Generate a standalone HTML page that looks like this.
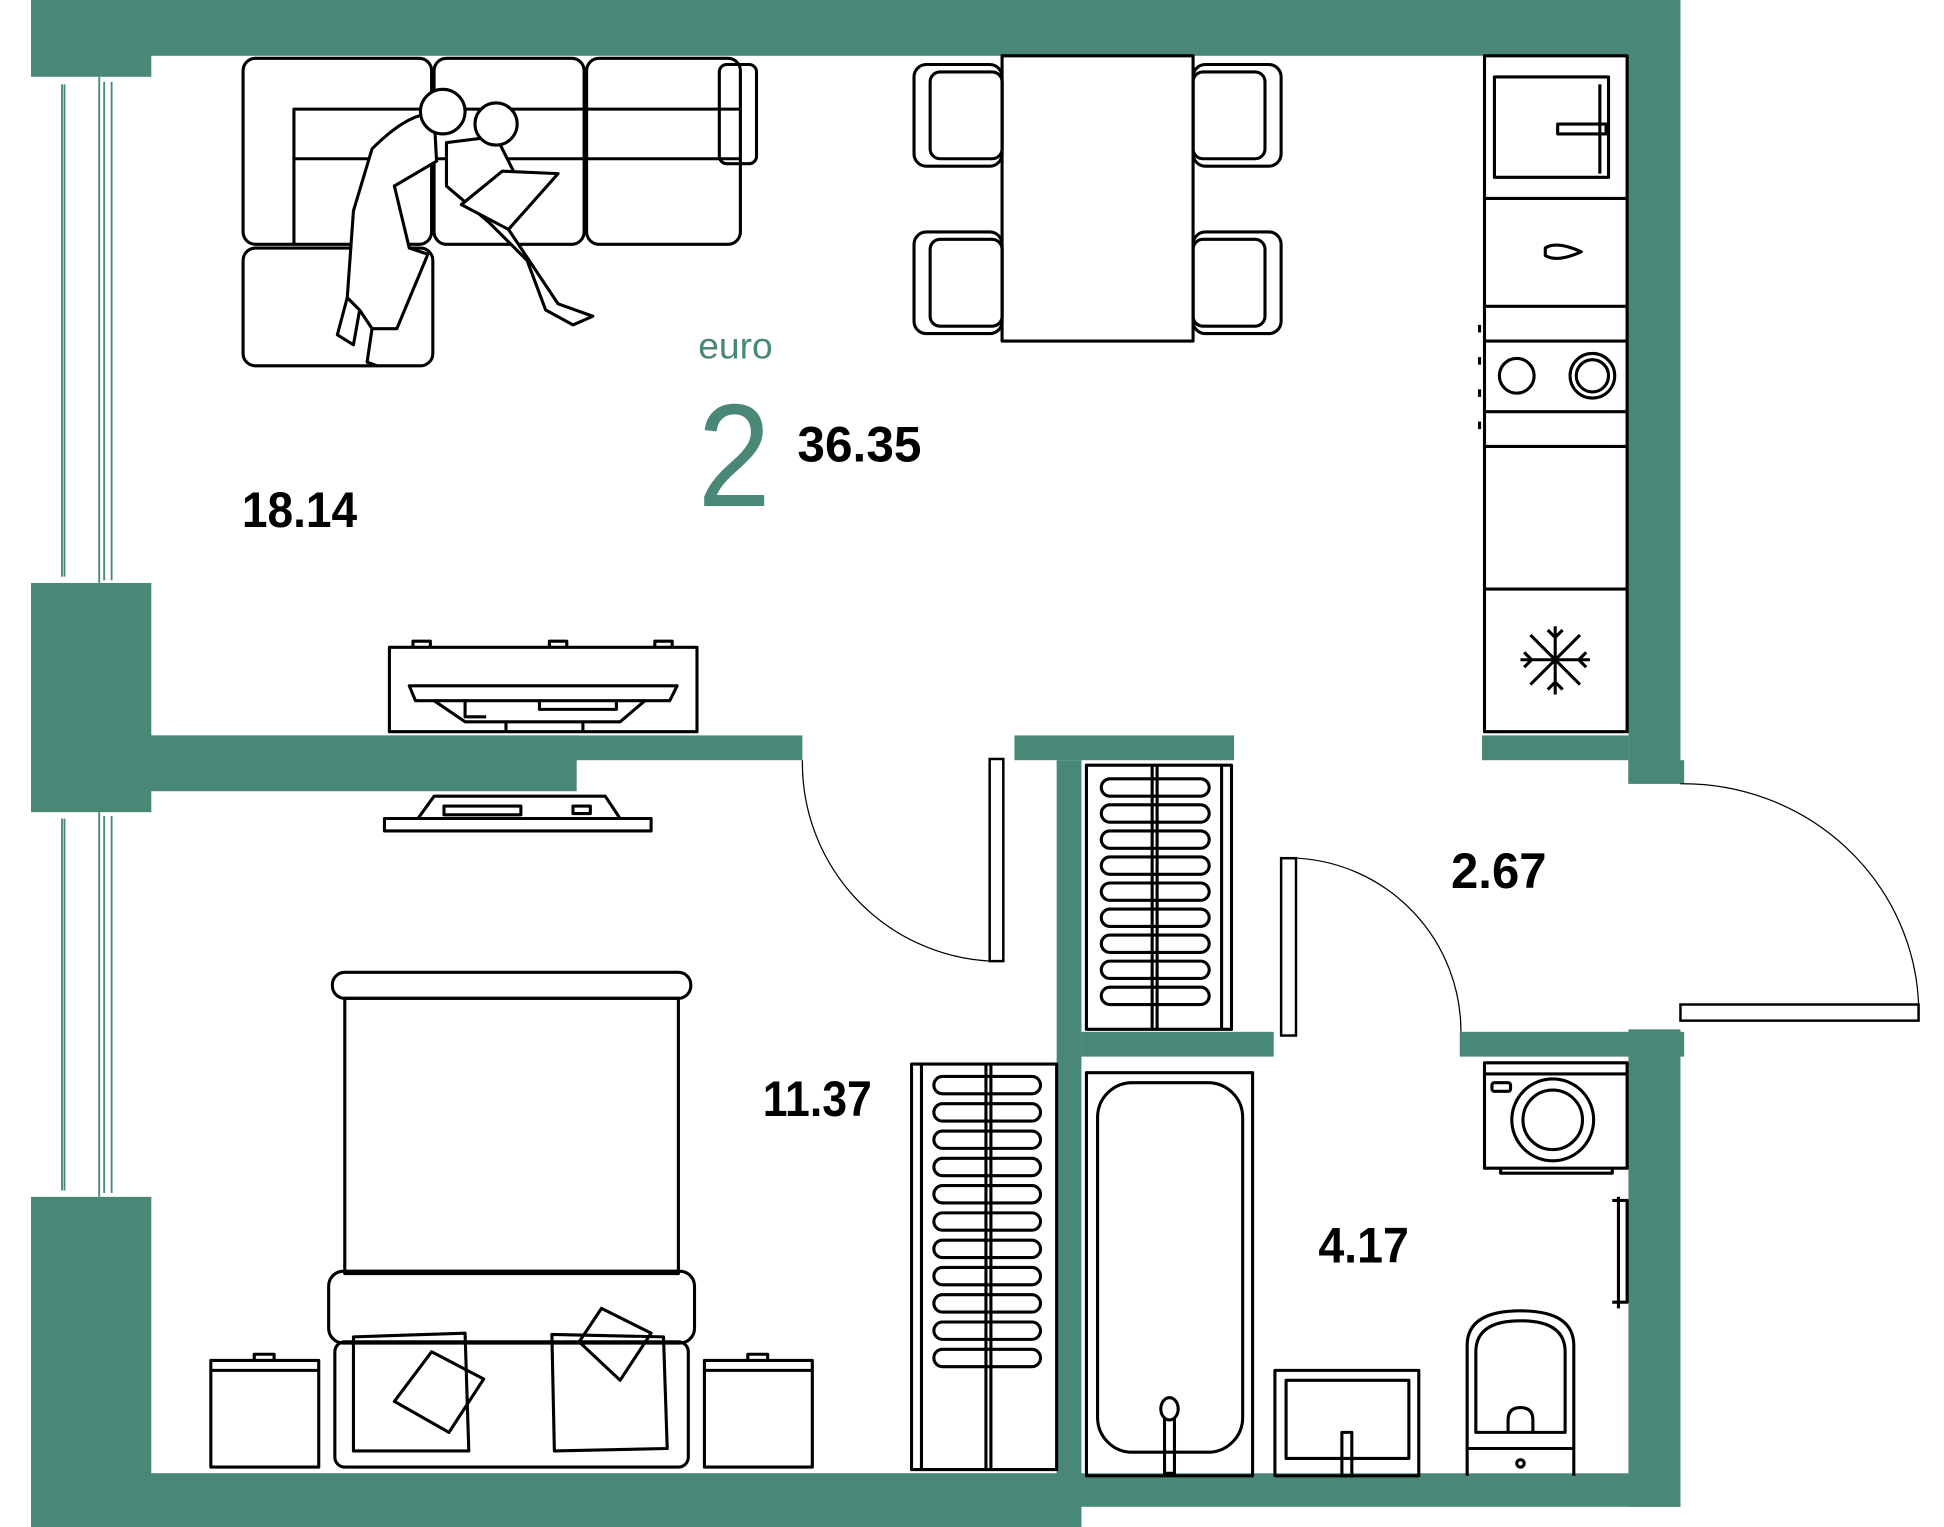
<!DOCTYPE html>
<html><head><meta charset="utf-8"><style>
html,body{margin:0;padding:0;background:#fff;width:1944px;height:1527px;overflow:hidden}
svg{display:block}
text{font-family:"Liberation Sans",sans-serif}
</style></head><body>
<svg width="1944" height="1527" viewBox="0 0 1567.5 1231.3" preserveAspectRatio="none" xmlns="http://www.w3.org/2000/svg">
<g fill="#498877">
<rect x="25" y="0" width="1330" height="45"/>
<rect x="25" y="0" width="97" height="62"/>
<rect x="25" y="470" width="97" height="185"/>
<rect x="25" y="965" width="97" height="267"/>
<rect x="1313" y="0" width="42" height="632"/>
<rect x="1313" y="613" width="45" height="19"/>
<rect x="1313" y="830" width="42" height="385"/>
<rect x="25" y="1188" width="1330" height="27"/>
<rect x="25" y="1188" width="847" height="44"/>
<rect x="122" y="593" width="525" height="20"/>
<rect x="25" y="593" width="440" height="45"/>
<rect x="818" y="593" width="177" height="20"/>
<rect x="1195" y="593" width="118" height="20"/>
<rect x="852" y="613" width="20" height="577"/>
<rect x="872" y="832" width="155" height="20"/>
<rect x="1177" y="832" width="181" height="20"/>
</g>
<g fill="none" stroke="#498877" stroke-width="1.5">
<rect x="25" y="62" width="97" height="408" fill="#fff" stroke="none"/>
<rect x="25" y="655" width="97" height="310" fill="#fff" stroke="none"/>
<line x1="50" y1="68" x2="50" y2="465"/><line x1="52" y1="68" x2="52" y2="465"/>
<line x1="80" y1="62" x2="80" y2="470"/><line x1="84" y1="66" x2="84" y2="468"/><line x1="90" y1="66" x2="90" y2="468"/>
<line x1="50" y1="660" x2="50" y2="960"/><line x1="52" y1="660" x2="52" y2="960"/>
<line x1="80" y1="655" x2="80" y2="965"/><line x1="84" y1="658" x2="84" y2="962"/><line x1="90" y1="658" x2="90" y2="962"/>
</g>
<g fill="none" stroke="#000" stroke-width="2.5" stroke-linejoin="round">
<rect x="196" y="47" width="152" height="150" rx="10"/>
<rect x="350" y="47" width="121" height="150" rx="10"/>
<rect x="473" y="47" width="124" height="150" rx="10"/>
<rect x="580" y="52" width="30" height="80" rx="6"/>
<path d="M237 197 V88 H597 M237 128 H597"/>
<rect x="196" y="200" width="153" height="95" rx="10"/>
<path d="M300 120 Q330 90 350 92 L352 130 L318 150 L330 200 L345 205 L320 265 L300 265 L290 250 L280 240 L285 170 Z" fill="#fff"/>
<circle cx="357" cy="90" r="18" fill="#fff"/>
<path d="M360 115 L400 110 L415 140 L400 170 L420 200 L450 245 L478 255 L462 262 L440 250 L425 210 L395 180 L360 150 Z" fill="#fff"/>
<circle cx="400" cy="100" r="17" fill="#fff"/>
<path d="M372 165 L405 138 L450 140 L410 185 Z" fill="#fff"/>
<path d="M280 240 L272 270 L285 278 L290 250 M300 265 L296 292 L304 295"/>
<rect x="808" y="45" width="154" height="230"/>
<rect x="737" y="52" width="71" height="82" rx="10"/><rect x="750" y="58" width="58" height="70" rx="8"/>
<rect x="737" y="187" width="71" height="82" rx="10"/><rect x="750" y="193" width="58" height="70" rx="8"/>
<rect x="962" y="52" width="71" height="82" rx="10"/><rect x="962" y="58" width="58" height="70" rx="8"/>
<rect x="962" y="187" width="71" height="82" rx="10"/><rect x="962" y="193" width="58" height="70" rx="8"/>
<rect x="1197" y="45" width="115" height="545"/>
<path d="M1197 160 H1312 M1197 247 H1312 M1197 275 H1312 M1197 332 H1312 M1197 360 H1312 M1197 475 H1312"/>
<rect x="1205" y="62" width="92" height="81"/>
<path d="M1290 68 V140 M1256 100 H1295 V108 H1256 Z"/>
<path d="M1246 200 Q1255 194 1275 203 Q1255 212 1246 206 Z"/>
<circle cx="1223" cy="303" r="14"/><circle cx="1284" cy="303" r="18"/><circle cx="1284" cy="303" r="13"/>
<path d="M1193 262 v6 M1193 288 v6 M1193 314 v6 M1193 340 v6"/>
<path d="M1254 505 V560 M1226 532 H1282 M1234 512 L1274 552 M1274 512 L1234 552 M1248 508 L1254 514 L1260 508 M1248 556 L1254 550 L1260 556 M1229 526 L1235 532 L1229 538 M1279 526 L1273 532 L1279 538"/>
<rect x="314" y="522" width="248" height="68"/>
<path d="M333 522 v-5 h14 v5 M443 522 v-5 h14 v5 M528 522 v-5 h14 v5"/>
<path d="M330 553 H546 L540 565 H335 Z M350 565 L375 582 H500 L520 565 M375 565 V578 H392 M435 565 V572 H497 V565 M408 582 V590 M470 582 V590"/>
<path d="M310 660 H525 V670 H310 Z M337 660 L350 642 H488 L500 660 M358 650 H420 V657 H358 Z M462 650 h14 v6 h-14 Z"/>
<rect x="268" y="784" width="289" height="21" rx="10"/>
<rect x="278" y="805" width="269" height="222"/>
<rect x="265" y="1025" width="295" height="58" rx="12"/>
<rect x="270" y="1082" width="285" height="101" rx="8"/>
<path d="M285 1078 L375 1075 L378 1170 L285 1170 Z"/>
<path d="M445 1076 L535 1078 L538 1168 L447 1170 Z"/>
<path d="M318 1130 L348 1090 L390 1112 L362 1155 Z"/>
<path d="M467 1082 L485 1055 L525 1075 L500 1113 Z"/>
<rect x="170" y="1097" width="87" height="86"/><path d="M170 1105 H257 M205 1097 v-5 h16 v5"/>
<rect x="568" y="1097" width="87" height="86"/><path d="M568 1105 H655 M603 1097 v-5 h16 v5"/>
<rect x="735" y="858" width="117" height="327"/>
<path d="M743 858 V1185 M795 858 V1185 M799 858 V1185"/>
<rect x="876" y="617" width="117" height="213"/>
<path d="M985 617 V830 M929 617 V830 M933 617 V830"/>
<rect x="876" y="865" width="134" height="325"/>
<rect x="885" y="873" width="117" height="298" rx="28"/>
<rect x="939" y="1143" width="8" height="45"/><ellipse cx="943" cy="1136" rx="7" ry="9" fill="#fff"/>
<rect x="1028" y="1105" width="116" height="85"/>
<rect x="1037" y="1113" width="99" height="63"/>
<rect x="1082" y="1155" width="8" height="35"/>
<path d="M1183 1190 V1085 Q1183 1057 1226 1057 Q1269 1057 1269 1085 V1190"/>
<path d="M1190 1155 V1090 Q1190 1065 1226 1065 Q1262 1065 1262 1090 V1155 Z"/>
<path d="M1183 1168 H1269 M1216 1155 V1145 Q1216 1135 1226 1135 Q1236 1135 1236 1145 V1155"/>
<circle cx="1226" cy="1180" r="3"/>
<rect x="1197" y="857" width="115" height="85"/>
<path d="M1197 866 H1312 M1210 942 V946 H1300 V942"/>
<rect x="1203" y="873" width="15" height="7" rx="2"/>
<circle cx="1252" cy="903" r="33"/><circle cx="1252" cy="903" r="24"/>
<path d="M1305 965 V1055 M1300 968 H1312 V1050 H1300"/>
</g>
<g fill="none" stroke="#000" stroke-width="2.5">
<path d="M895 628 H968 a7 7 0 0 1 0 14 H895 a7 7 0 0 1 0 -14 M895 649 H968 a7 7 0 0 1 0 14 H895 a7 7 0 0 1 0 -14 M895 670 H968 a7 7 0 0 1 0 14 H895 a7 7 0 0 1 0 -14 M895 691 H968 a7 7 0 0 1 0 14 H895 a7 7 0 0 1 0 -14 M895 712 H968 a7 7 0 0 1 0 14 H895 a7 7 0 0 1 0 -14 M895 733 H968 a7 7 0 0 1 0 14 H895 a7 7 0 0 1 0 -14 M895 754 H968 a7 7 0 0 1 0 14 H895 a7 7 0 0 1 0 -14 M895 775 H968 a7 7 0 0 1 0 14 H895 a7 7 0 0 1 0 -14 M895 796 H968 a7 7 0 0 1 0 14 H895 a7 7 0 0 1 0 -14"/>
<path d="M760 868 H832 a7 7 0 0 1 0 14 H760 a7 7 0 0 1 0 -14 M760 890 H832 a7 7 0 0 1 0 14 H760 a7 7 0 0 1 0 -14 M760 912 H832 a7 7 0 0 1 0 14 H760 a7 7 0 0 1 0 -14 M760 934 H832 a7 7 0 0 1 0 14 H760 a7 7 0 0 1 0 -14 M760 956 H832 a7 7 0 0 1 0 14 H760 a7 7 0 0 1 0 -14 M760 978 H832 a7 7 0 0 1 0 14 H760 a7 7 0 0 1 0 -14 M760 1000 H832 a7 7 0 0 1 0 14 H760 a7 7 0 0 1 0 -14 M760 1022 H832 a7 7 0 0 1 0 14 H760 a7 7 0 0 1 0 -14 M760 1044 H832 a7 7 0 0 1 0 14 H760 a7 7 0 0 1 0 -14 M760 1066 H832 a7 7 0 0 1 0 14 H760 a7 7 0 0 1 0 -14 M760 1088 H832 a7 7 0 0 1 0 14 H760 a7 7 0 0 1 0 -14"/>
</g>
<g fill="#fff" stroke="#000" stroke-width="2">
<rect x="798" y="612" width="11" height="163"/>
<rect x="1033" y="692" width="12" height="143"/>
<rect x="1355" y="810" width="192" height="13"/>
</g>
<g fill="none" stroke="#000" stroke-width="1">
<path d="M647 613 A160 160 0 0 0 798 775"/>
<path d="M1046 692 A140 140 0 0 1 1178 832"/>
<path d="M1355 632 A190 185 0 0 1 1547 810"/>
</g>
<text x="593" y="289" fill="#498877" font-size="30" text-anchor="middle">euro</text>
<text x="592" y="408" fill="#498877" font-size="118" text-anchor="middle" transform="translate(592 0) scale(0.9 1) translate(-592 0)">2</text>
<g font-weight="bold" font-size="40" fill="#000">
<text x="643" y="372" textLength="100" lengthAdjust="spacingAndGlyphs">36.35</text>
<text x="195" y="425" textLength="93" lengthAdjust="spacingAndGlyphs">18.14</text>
<text x="615" y="900" textLength="88" lengthAdjust="spacingAndGlyphs">11.37</text>
<text x="1170" y="716" textLength="77" lengthAdjust="spacingAndGlyphs">2.67</text>
<text x="1063" y="1018" textLength="73" lengthAdjust="spacingAndGlyphs">4.17</text>
</g>
</svg>
</body></html>
